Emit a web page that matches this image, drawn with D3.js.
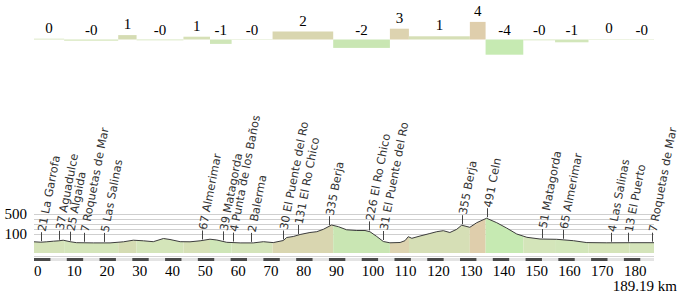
<!DOCTYPE html>
<html><head><meta charset="utf-8">
<script src="https://cdn.jsdelivr.net/npm/d3@7"></script>
<style>body{margin:0;background:#fff}svg{display:block}</style>
</head><body>
<svg id="c" width="682" height="295"></svg>
<script>
// ---- data ----
const totalKm = 189.19;
const profileKm = [0,2.1,3.9,5.9,7.6,8.9,11.0,13.0,18.1,23.2,27.3,30.3,33.4,36.4,39.5,41.5,44.6,47.6,50.7,53.7,55.8,58.8,62.9,66.9,70.0,73.0,76.1,77.1,79.1,81.2,84.2,86.3,88.3,90.8,92.9,95.4,98.5,101.0,102.5,104.6,106.6,108.6,111.7,113.2,114.2,115.3,117.8,120.8,122.9,124.9,126.9,129.0,130.5,133.0,135.1,138.1,141.2,144.2,147.3,150.4,154.4,159.5,164.6,168.7,174.8,181.9,189.19];
const profileElev = [24,16,24,36,44,56,26,6,2,2,24,56,44,26,90,70,26,24,44,76,60,14,2,2,26,8,50,110,130,170,210,226,274,360,326,264,250,250,226,130,30,4,10,46,126,94,140,190,226,246,210,274,356,314,406,495,406,300,180,114,80,74,46,8,4,6,6];

const segStart = [0,9.2,25.7,31.3,45.6,53.7,60.3,72.8,91.3,108.6,114.4,133.0,137.8,149.3,159.0,169.2,181.7];
const segGrade = [0.2,-0.3,1.1,-0.2,0.7,-1.1,-0.1,2.0,-2.1,2.7,0.8,4.4,-3.8,-0.2,-0.7,0.1,-0.1];

const wpKm = [2.1,7.6,11.0,15.3,21.5,51.3,57.6,60.8,66.1,76.1,80.7,90.1,102.1,106.4,130.5,138.1,155.1,161.3,176.0,181.2,188.5];
const wpElev = [21,37,25,7,5,67,39,4,2,30,131,335,226,31,355,491,51,65,4,13,7];
const wpName = ["La Garrofa","Aguadulce","Algaida","Roquetas de Mar","Las Salinas","Almerimar","Matagorda","Punta de los Baños","Balerma","El Puente del Ro","El Ro Chico","Berja","El Ro Chico","El Puente del Ro","Berja","Celn","Matagorda","Almerimar","Las Salinas","El Puerto","Roquetas de Mar"];

const xTicks = d3.range(0,181,10);
const yTicks = [100,200,300,400,500];
const yLabels = [500,100];
const rulerStep = 5;

// ---- scales ----
const svg = d3.select("#c");
const x = d3.scaleLinear().domain([0,totalKm]).range([34,654]);
const y = d3.scaleLinear().domain([0,500]).range([243,218]);
const g = d3.scaleLinear().domain([0,1]).range([39.5,35.5]);
const baseY = 253;
const gridShift = -4;
const color = d3.scaleLinear()
  .domain([-4,-2,-0.5,0.5,1.5,2.5,4.5])
  .range(["#c6eab2","#c9e6b3","#d3e6bb","#d6e2b8","#d5d8b0","#ddd3b0","#dfceac"]);

const segs = segStart.map((s,i)=>({s, e: i<segStart.length-1?segStart[i+1]:totalKm, v:segGrade[i]}));
const prof = profileKm.map((k,i)=>({k, e:profileElev[i]}));
const elevAt = k => {
  const i = d3.bisector(d=>d.k).right(prof,k);
  if(i<=0) return prof[0].e;
  if(i>=prof.length) return prof[prof.length-1].e;
  const a=prof[i-1], b=prof[i];
  return a.e + (b.e-a.e)*(k-a.k)/(b.k-a.k);
};
const serif = "'Liberation Serif','Times New Roman',serif";

// ---- gradient bars ----
svg.append("g").selectAll("rect").data(segs).join("rect")
  .attr("x",d=>x(d.s)).attr("width",d=>x(d.e)-x(d.s))
  .attr("y",d=>Math.min(g(d.v),g(0))).attr("height",d=>Math.abs(g(d.v)-g(0)))
  .attr("fill",d=>color(d.v));
const fmt = v => v<0 ? "-"+Math.round(-v) : String(Math.round(v));
svg.append("g").selectAll("text").data(segs).join("text")
  .attr("x",d=>(x(d.s)+x(d.e))/2)
  .attr("y",d=>Math.min(g(d.v),g(0)) - (d.v<0?5:6))
  .attr("text-anchor","middle")
  .attr("font-family",serif).attr("font-size",15)
  .attr("fill","#000").text(d=>fmt(d.v));

// ---- grid ----
svg.append("g").selectAll("line").data(yTicks).join("line")
  .attr("x1",x(0)).attr("x2",x(totalKm))
  .attr("y1",d=>y(d)+gridShift+0.5).attr("y2",d=>y(d)+gridShift+0.5)
  .attr("stroke","#cfcfcf").attr("stroke-width",1);
svg.append("g").selectAll("text").data(yLabels).join("text")
  .attr("x",27).attr("y",d=>y(d)+0.5).attr("text-anchor","end")
  .attr("font-family",serif).attr("font-size",15)
  .attr("fill","#000").text(d=>d);

// ---- profile area by segment ----
const defs = svg.append("defs");
segs.forEach((d,i)=>{
  defs.append("clipPath").attr("id","cp"+i).append("rect")
    .attr("x",x(d.s)).attr("width",x(d.e)-x(d.s)).attr("y",0).attr("height",295);
});
const area = d3.area().x(d=>x(d.k)).y0(baseY).y1(d=>y(d.e));
svg.append("g").selectAll("path").data(segs).join("path")
  .attr("d",area(prof)).attr("clip-path",(d,i)=>`url(#cp${i})`)
  .attr("fill",d=>color(d.v));
svg.append("path").attr("d",d3.line().x(d=>x(d.k)).y(d=>y(d.e))(prof))
  .attr("fill","none").attr("stroke","#3c3c3c").attr("stroke-width",1);

// ---- waypoints ----
const wp = wpKm.map((k,i)=>({k, el:wpElev[i], name:wpName[i], py:y(elevAt(wpKm[i]))}));
const wg = svg.append("g");
wg.selectAll("line").data(wp).join("line")
  .attr("x1",d=>Math.round(x(d.k))+0.5).attr("x2",d=>Math.round(x(d.k))+0.5)
  .attr("y1",d=>d.py-1).attr("y2",d=>d.py-10)
  .attr("stroke","#444").attr("stroke-width",1);
wg.selectAll("text").data(wp).join("text")
  .attr("transform",d=>`translate(${Math.round(x(d.k))+0.5},${d.py-11}) rotate(-79)`)
  .attr("dy","0.35em")
  .attr("font-family","'DejaVu Sans',Verdana,sans-serif").attr("font-size",11.3)
  .attr("fill","#333").text(d=>d.el+" "+d.name);

// ---- ruler ----
const rs = d3.range(0,totalKm,rulerStep).map(s=>({s,e:Math.min(s+rulerStep,totalKm)}));
svg.append("rect").attr("x",x(0)).attr("width",x(totalKm)-x(0)).attr("y",256).attr("height",1).attr("fill","#d4d4d4");
svg.append("rect").attr("x",x(0)).attr("width",x(totalKm)-x(0)).attr("y",258).attr("height",3).attr("fill","#e4e4e4");
svg.append("g").selectAll("rect").data(rs.filter((d,i)=>i%2===0)).join("rect")
  .attr("x",d=>x(d.s)).attr("width",d=>x(d.e)-x(d.s)).attr("y",258).attr("height",3).attr("fill","#4a4a4a");

// ---- x labels ----
svg.append("g").selectAll("text").data(xTicks).join("text")
  .attr("x",d=>x(d)).attr("y",276)
  .attr("font-family",serif).attr("font-size",15)
  .attr("fill","#000").text(d=>d);
svg.append("text").attr("x",677).attr("y",291).attr("text-anchor","end")
  .attr("font-family",serif).attr("font-size",15)
  .attr("fill","#000").text(totalKm+" km");
</script>
</body></html>
